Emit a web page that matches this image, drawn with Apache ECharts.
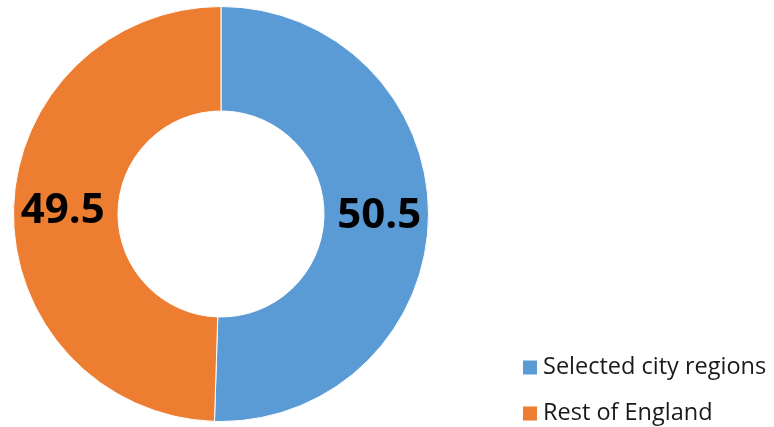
<!DOCTYPE html>
<html>
<head>
<meta charset="utf-8">
<script src="https://cdn.jsdelivr.net/npm/echarts@6/dist/echarts.min.js"></script>
<style>
  html, body { margin: 0; padding: 0; background: #fff; }
  #chart { width: 774px; height: 427px; }
</style>
</head>
<body>
<div id="chart"></div>
<script>
// Share of total, in per cent
const categories = ['Selected city regions', 'Rest of England'];
const shares = [50.5, 49.5];
const colors = ['#5B9BD5', '#ED7D31'];

const chart = echarts.init(document.getElementById('chart'), null, { renderer: 'canvas' });

chart.setOption({
  animation: false,
  color: colors,
  legend: {
    orient: 'vertical',
    left: 523,
    top: 355,
    height: 72,
    icon: 'rect',
    itemWidth: 14,
    itemHeight: 14,
    itemGap: 21,
    itemStyle: { borderWidth: 0 },
    padding: 0,
    textStyle: { fontFamily: 'Open Sans', fontSize: 23.5, lineHeight: 25, color: '#1a1a1a', padding: [0, 0, 0, 1] },
    data: categories
  },
  series: [{
    type: 'pie',
    center: [221, 214],
    radius: [103, 207.5],
    startAngle: 90,
    clockwise: true,
    itemStyle: { borderColor: '#fff', borderWidth: 1 },
    label: {
      show: true,
      position: 'inside',
      formatter: p => p.value.toFixed(1),
      fontFamily: 'Open Sans',
      fontWeight: 'bold',
      fontSize: 42,
      color: '#000'
    },
    labelLine: { show: false },
    emphasis: { disabled: true },
    data: categories.map((name, i) => ({ name, value: shares[i] }))
  }]
});
</script>
</body>
</html>
